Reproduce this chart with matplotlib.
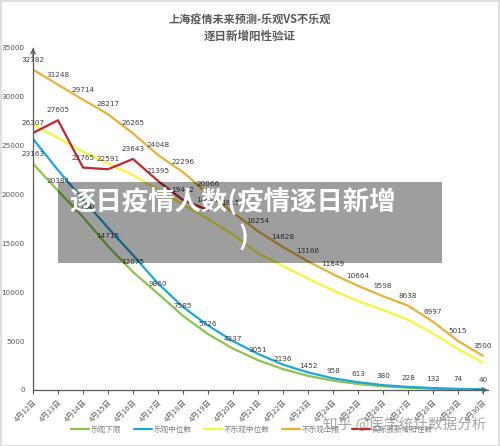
import matplotlib
matplotlib.use("Agg")
import matplotlib.pyplot as plt
import matplotlib.patches as patches

plt.rcParams['font.family'] = ['Noto Sans CJK SC', 'DejaVu Sans']

dates = ["4月%d日" % d for d in range(12, 31)]
opt_low = [23163, 20384, 17700, 14715, 12075, 9860, 7585, 5726, 4237, 3051,
           2136, 1452, 958, 613, 380, 228, 132, 74, 40]
opt_mid = [25700, 22500, 19500, 16600, 13800, 10900, 8500, 6600, 5000, 3700,
           2600, 1800, 1200, 800, 500, 320, 200, 120, 70]
pes_mid = [27200, 25800, 24400, 23200, 22000, 20500, 19000, 17500, 15900, 14000,
           12700, 11400, 10200, 9100, 8200, 7200, 5800, 4200, 2800]
pes_up = [32782, 31248, 29714, 28217, 26265, 24048, 22296, 20066, 18150, 16254,
          14628, 13166, 11849, 10664, 9598, 8638, 6997, 5015, 3500]
actual = [26307, 27605, 22765, 22591, 23643, 21395, 19442, 18420]

series_names = ["乐观下限", "乐观中位数", "不乐观中位数", "不乐观上限", "实际报新增阳性数"]
colors = ["#8fc250", "#1fa7d9", "#f7f53c", "#e6b23a", "#c0282d"]

W, H = 500, 446
fig = plt.figure(figsize=(W / 100, H / 100), dpi=100)
fig.patch.set_facecolor("white")

ax = fig.add_axes([33 / W, 1 - 390 / H, 455 / W, (390 - 48) / H])
ax.set_facecolor("none")

xs = list(range(len(dates)))
all_series = [opt_low, opt_mid, pes_mid, pes_up, actual]
handles = []
for vals, c, name in zip(all_series, colors, series_names):
    h, = ax.plot(xs[:len(vals)], vals, color=c, lw=1.6, label=name,
                 solid_joinstyle="round", solid_capstyle="round")
    handles.append(h)

label_color = "#404040"
for vals in (opt_low, pes_up, actual):
    for x, v in zip(xs, vals):
        ax.annotate(str(v), (x, v), xytext=(0, 5), textcoords="offset points",
                    ha="center", va="bottom", fontsize=5.2, color=label_color,
                    family="DejaVu Sans")

ax.set_xlim(0, 18.2)
ax.set_ylim(0, 35000)
ax.set_yticks(range(0, 35001, 5000))
ax.set_yticklabels([str(v) for v in range(0, 35001, 5000)], fontsize=5.2,
                   color="#595959", family="DejaVu Sans")
ax.tick_params(axis="y", length=0, pad=6)
ax.set_xticks(xs)
ax.set_xticklabels(dates, rotation=45, ha="right", va="top",
                   rotation_mode="anchor", fontsize=5.5, color="#595959")
ax.tick_params(axis="x", length=3, width=0.8, color="#595959", pad=3)

for s in ("top", "right"):
    ax.spines[s].set_visible(False)
for s in ("left", "bottom"):
    ax.spines[s].set_color("#595959")
    ax.spines[s].set_linewidth(0.9)

ax.annotate("", xy=(0, 1.0), xytext=(0, 0.97), xycoords="axes fraction",
            arrowprops=dict(arrowstyle="->", color="#595959", lw=0.9,
                            shrinkA=0, shrinkB=0, mutation_scale=8))
ax.annotate("", xy=(1.0, 0), xytext=(0.97, 0), xycoords="axes fraction",
            arrowprops=dict(arrowstyle="->", color="#595959", lw=0.9,
                            shrinkA=0, shrinkB=0, mutation_scale=8))

fig.text(0.5, 1 - 20 / H, "上海疫情未来预测-乐观VS不乐观", ha="center", va="center",
         fontsize=8, color="#595959", weight="bold")
fig.text(0.5, 1 - 36 / H, "逐日新增阳性验证", ha="center", va="center",
         fontsize=8.3, color="#595959", weight="bold")

leg = fig.legend(handles=handles, loc="center", bbox_to_anchor=(252 / W, 1 - 430 / H),
                 ncol=5, frameon=False, fontsize=5.5, handlelength=2.4,
                 handletextpad=0.2, columnspacing=1.6)
for t in leg.get_texts():
    t.set_color("#7f7f7f")

# overlay banner
rect = patches.Rectangle((58 / W, 1 - 263 / H), (442 - 58) / W, 81 / H,
                         transform=fig.transFigure, facecolor="black",
                         alpha=0.38, edgecolor="none", zorder=10)
fig.patches.append(rect)
fig.text(69 / W, 1 - 203 / H, "逐日疫情人数(疫情逐日新增", ha="left", va="center",
         fontsize=19, color="white", weight="bold", zorder=11)
fig.text(244 / W, 1 - 238 / H, ")", ha="center", va="center",
         fontsize=19, color="white", weight="bold", zorder=11)

# watermark
fig.text(405 / W, 1 - 425 / H, "知乎 @医学统计数据分析", ha="center", va="center",
         fontsize=10.5, color="#8a8a8a", alpha=0.75, zorder=12)

# frame
border = patches.Rectangle((0.5 / W, 0.5 / H), 1 - 1.5 / W, 1 - 1.5 / H,
                           transform=fig.transFigure, facecolor="none",
                           edgecolor="#d9d9d9", lw=1.2, zorder=13)
fig.patches.append(border)

fig.savefig("out.png", dpi=100)
